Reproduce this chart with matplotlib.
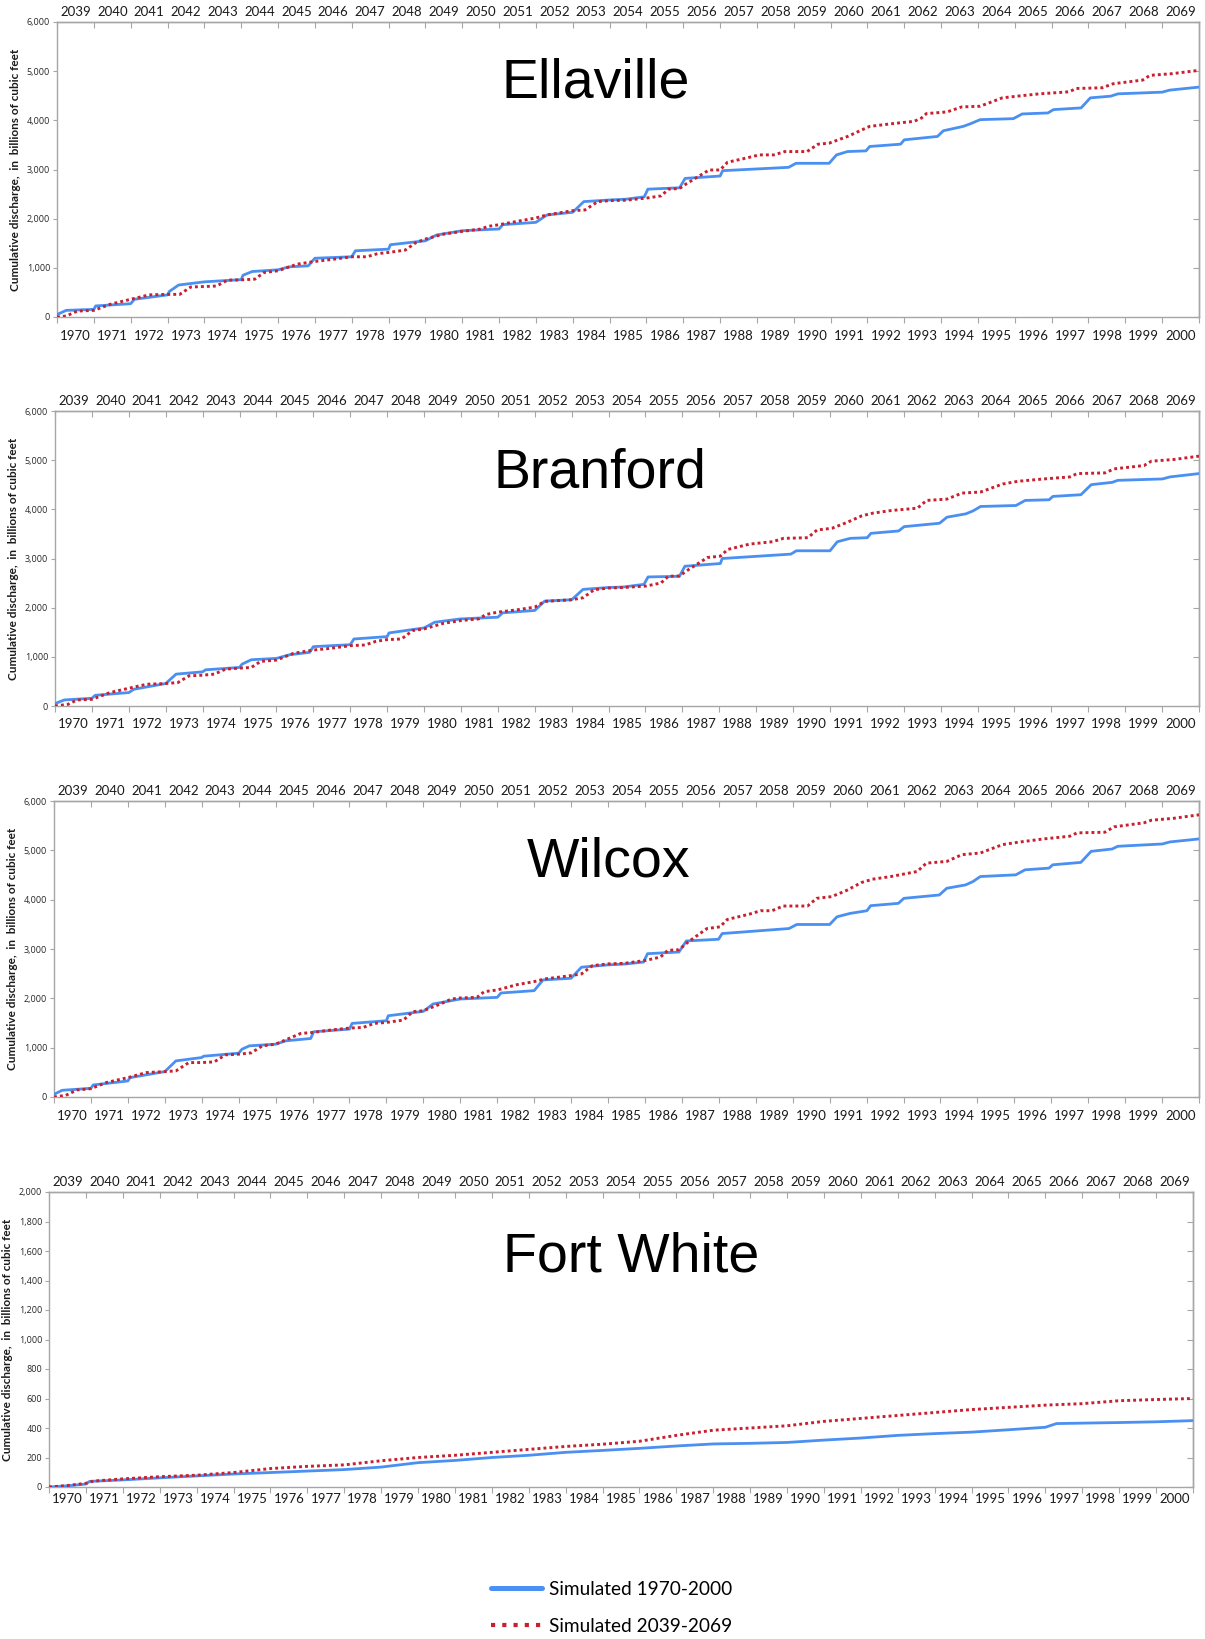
import matplotlib
matplotlib.use("Agg")
import matplotlib.pyplot as plt
from matplotlib.lines import Line2D
from matplotlib.ticker import FuncFormatter

plt.rcParams["font.family"] = ["Lato", "DejaVu Sans"]

# Cumulative discharge (billions of cubic feet) vs. years since start of record
# (0 = start of 1970 / 2039, 31 = end of 2000 / 2069)
ella_base = [(0, 50), (0.25, 135), (1.0, 155), (1.05, 225), (2.0, 270), (2.1, 360), (3.0, 450),
             (3.05, 520), (3.3, 650), (4.0, 715), (5.0, 760), (5.05, 850), (5.3, 925), (6.0, 960),
             (6.3, 1020), (6.82, 1040), (7.0, 1195), (8.0, 1225), (8.1, 1347), (9.0, 1380),
             (9.05, 1470), (10.0, 1550), (10.3, 1667), (11.0, 1755), (12.0, 1790), (12.1, 1878),
             (13.0, 1925), (13.3, 2075), (14.0, 2130), (14.3, 2347), (15.0, 2380), (15.44, 2396),
             (15.94, 2444), (16.04, 2600), (16.9, 2628), (17.05, 2819), (18.0, 2867), (18.07, 2976),
             (19.86, 3044), (20.06, 3126), (20.96, 3126), (21.16, 3297), (21.46, 3365), (21.96, 3379),
             (22.06, 3468), (22.9, 3515), (23.0, 3604), (23.9, 3672), (24.06, 3788), (24.6, 3877),
             (24.8, 3932), (25.06, 4014), (25.96, 4034), (26.2, 4130), (26.9, 4150), (27.05, 4218),
             (27.8, 4253), (28.05, 4457), (28.6, 4491), (28.8, 4539), (30.0, 4573), (30.2, 4614),
             (31.0, 4676)]
ella_future = [(0, 0), (0.25, 20), (0.55, 120), (1.0, 135), (1.45, 260), (2.0, 360), (2.5, 450),
               (3.0, 460), (3.33, 460), (3.63, 610), (4.0, 620), (4.33, 630), (4.63, 750), (5.0, 755),
               (5.37, 770), (5.62, 905), (6.0, 940), (6.52, 1075), (7.0, 1130), (7.51, 1175),
               (8.0, 1225), (8.41, 1225), (8.71, 1290), (9.0, 1313), (9.45, 1360), (9.75, 1517),
               (10.0, 1585), (10.5, 1687), (11.0, 1741), (11.5, 1789), (11.7, 1843), (12.0, 1877),
               (12.59, 1959), (13.0, 2014), (13.29, 2075), (14.0, 2163), (14.33, 2177), (14.68, 2347),
               (15.0, 2367), (15.44, 2375), (16.04, 2423), (16.4, 2464), (16.6, 2600), (16.9, 2614),
               (17.1, 2717), (17.7, 2990), (18.0, 2990), (18.2, 3147), (18.76, 3242), (19.06, 3297),
               (19.46, 3297), (19.76, 3365), (20.36, 3365), (20.66, 3515), (20.96, 3536),
               (21.46, 3672), (21.86, 3809), (22.06, 3877), (22.67, 3932), (23.27, 3980),
               (23.47, 4048), (23.6, 4137), (24.16, 4171), (24.56, 4273), (25.06, 4287),
               (25.66, 4457), (26.06, 4491), (26.67, 4539), (27.47, 4580), (27.67, 4648),
               (28.37, 4662), (28.67, 4744), (29.47, 4819), (29.67, 4915), (30.27, 4949), (31.0, 5017)]

bran_base = [(0, 48), (0.25, 123), (1.0, 157), (1.09, 218), (2.0, 273), (2.14, 341), (3.0, 457),
             (3.28, 648), (4.0, 695), (4.08, 736), (5.0, 784), (5.07, 852), (5.32, 941), (6.0, 968),
             (6.36, 1043), (6.9, 1091), (7.0, 1207), (8.0, 1247), (8.1, 1363), (9.0, 1411),
             (9.05, 1486), (10.0, 1588), (10.29, 1704), (11.0, 1772), (12.0, 1806), (12.13, 1895),
             (13.0, 1943), (13.27, 2134), (14.0, 2161), (14.31, 2372), (15.0, 2410), (15.4, 2420),
             (15.96, 2474), (16.07, 2625), (16.92, 2638), (17.07, 2843), (18.03, 2898), (18.08, 3000),
             (19.94, 3089), (20.09, 3157), (21.0, 3157), (21.2, 3341), (21.55, 3410), (22.01, 3423),
             (22.11, 3512), (22.86, 3560), (23.01, 3648), (23.97, 3717), (24.17, 3840),
             (24.68, 3908), (24.88, 3969), (25.08, 4058), (26.04, 4078), (26.29, 4181),
             (26.94, 4195), (27.04, 4263), (27.8, 4297), (28.08, 4502), (28.65, 4549), (28.8, 4590),
             (30.01, 4618), (30.21, 4659), (31.0, 4727)]
bran_future = [(0, 0), (0.35, 34), (0.6, 123), (1.0, 136), (1.49, 273), (2.0, 361), (2.49, 443),
               (3.0, 457), (3.33, 477), (3.63, 613), (4.0, 627), (4.32, 648), (4.62, 750), (5.0, 770),
               (5.32, 784), (5.57, 907), (6.0, 934), (6.46, 1070), (7.0, 1138), (7.46, 1172),
               (8.0, 1227), (8.4, 1241), (8.7, 1316), (9.0, 1350), (9.39, 1363), (9.69, 1534),
               (10.0, 1568), (10.54, 1684), (11.0, 1738), (11.48, 1772), (11.68, 1861), (12.0, 1909),
               (12.52, 1956), (13.0, 2011), (13.27, 2127), (14.0, 2161), (14.31, 2202), (14.61, 2365),
               (15.0, 2399), (15.4, 2410), (16.02, 2440), (16.42, 2502), (16.62, 2638), (16.92, 2645),
               (17.17, 2775), (17.68, 3020), (18.03, 3048), (18.23, 3184), (18.83, 3294),
               (19.44, 3341), (19.74, 3410), (20.4, 3423), (20.65, 3580), (21.05, 3614),
               (21.45, 3730), (21.86, 3867), (22.16, 3922), (22.66, 3976), (23.37, 4024),
               (23.62, 4181), (24.17, 4208), (24.58, 4331), (25.08, 4352), (25.68, 4515),
               (26.09, 4570), (26.79, 4618), (27.5, 4659), (27.7, 4727), (28.45, 4741), (28.7, 4823),
               (29.51, 4891), (29.71, 4980), (30.32, 5014), (31.0, 5082)]

wilc_base = [(0, 54), (0.22, 136), (1.0, 176), (1.06, 244), (2.0, 325), (2.06, 393), (3.0, 515),
             (3.3, 732), (4.0, 800), (4.05, 827), (5.0, 888), (5.09, 969), (5.29, 1037), (6.0, 1071),
             (6.28, 1139), (6.95, 1186), (7.03, 1322), (8.0, 1376), (8.07, 1492), (9.0, 1546),
             (9.05, 1647), (10.0, 1736), (10.26, 1885), (11.0, 1986), (12.0, 2020), (12.1, 2108),
             (13.0, 2156), (13.24, 2373), (14.0, 2407), (14.28, 2631), (15.0, 2678), (15.45, 2695),
             (15.96, 2735), (16.07, 2905), (16.92, 2939), (17.12, 3163), (17.99, 3197), (18.09, 3313),
             (19.9, 3415), (20.11, 3497), (21.0, 3497), (21.2, 3653), (21.55, 3721), (22.01, 3776),
             (22.11, 3878), (22.86, 3925), (23.01, 4027), (23.97, 4095), (24.17, 4231),
             (24.68, 4299), (24.88, 4367), (25.08, 4469), (26.04, 4503), (26.29, 4605),
             (26.94, 4639), (27.04, 4707), (27.8, 4755), (28.08, 4980), (28.65, 5027), (28.8, 5082),
             (30.01, 5129), (30.21, 5170), (31.0, 5231)]
wilc_future = [(0, 0), (0.32, 34), (0.62, 142), (1.0, 169), (1.41, 292), (2.0, 393), (2.5, 495),
               (3.0, 515), (3.3, 529), (3.65, 698), (4.0, 698), (4.34, 712), (4.64, 854), (5.0, 868),
               (5.34, 895), (5.64, 1037), (6.0, 1071), (6.68, 1288), (7.0, 1308), (7.48, 1356),
               (8.0, 1397), (8.37, 1410), (8.67, 1492), (9.0, 1512), (9.46, 1559), (9.71, 1729),
               (10.0, 1749), (10.46, 1885), (10.76, 1986), (11.0, 2007), (11.45, 2020), (11.65, 2136),
               (12.0, 2169), (12.54, 2278), (13.0, 2339), (13.29, 2393), (14.0, 2461), (14.28, 2495),
               (14.58, 2664), (15.0, 2698), (15.45, 2710), (16.02, 2769), (16.42, 2837),
               (16.62, 2973), (16.92, 2986), (17.17, 3143), (17.68, 3415), (18.03, 3449),
               (18.23, 3599), (18.83, 3707), (19.13, 3776), (19.44, 3776), (19.74, 3871),
               (20.4, 3871), (20.65, 4027), (21.05, 4061), (21.45, 4184), (21.86, 4347),
               (22.16, 4415), (22.66, 4469), (23.37, 4571), (23.62, 4741), (24.17, 4775),
               (24.58, 4912), (25.08, 4946), (25.68, 5116), (26.09, 5163), (26.79, 5231),
               (27.5, 5286), (27.7, 5354), (28.45, 5367), (28.7, 5476), (29.51, 5558), (29.71, 5610),
               (30.32, 5650), (31.0, 5720)]

fw_base = [(0, 0), (0.5, 8), (1.0, 20), (1.1, 38), (2.0, 48), (3.0, 62), (4.0, 75), (5.0, 88),
           (6.0, 98), (7.0, 108), (8.0, 118), (9.0, 135), (10.0, 165), (11.0, 180), (12.0, 200),
           (13.0, 215), (14.0, 235), (15.0, 248), (16.0, 262), (17.0, 278), (18.0, 292), (19.0, 296),
           (20.0, 302), (21.0, 318), (22.0, 332), (23.0, 350), (24.0, 362), (25.0, 372), (26.0, 388),
           (27.0, 405), (27.3, 430), (28.0, 433), (29.0, 437), (30.0, 442), (31.0, 450)]
fw_future = [(0, 0), (0.5, 10), (1.0, 25), (1.2, 40), (2.0, 55), (3.0, 70), (4.0, 80), (5.0, 98),
             (6.0, 125), (7.0, 140), (8.0, 150), (9.0, 178), (10.0, 200), (11.0, 215), (12.0, 235),
             (13.0, 255), (14.0, 275), (15.0, 290), (16.0, 310), (17.0, 350), (18.0, 385),
             (19.0, 400), (20.0, 415), (21.0, 445), (22.0, 465), (23.0, 485), (24.0, 505),
             (25.0, 525), (26.0, 540), (27.0, 555), (28.0, 565), (29.0, 585), (30.0, 593), (31.0, 600)]

years_base = list(range(1970, 2001))
years_future = list(range(2039, 2070))
stations = ["Ellaville", "Branford", "Wilcox", "Fort White"]

BLUE = "#4a8ff2"
RED = "#c8202f"
GRID = "#a6a6a6"
YLABEL = "Cumulative discharge,  in  billions of cubic feet"

W, H = 1205, 1639
fig = plt.figure(figsize=(W / 100, H / 100), dpi=100)


def add_axes_px(left, top, right, bottom):
    return fig.add_axes([left / W, 1 - bottom / H, (right - left) / W, (bottom - top) / H])


def year_axis(axis, labels):
    axis.set_ticks(range(32))
    axis.set_ticklabels([])
    axis.set_ticks([i + 0.5 for i in range(31)], minor=True)
    axis.set_ticklabels([str(y) for y in labels], minor=True)


def draw_panel(box, name, title_pos, base, future, ymax, ystep, xpad=9):
    ax = add_axes_px(*box)
    bt, bv = zip(*base)
    ft, fv = zip(*future)
    ax.plot(bt, bv, color=BLUE, lw=2.0, solid_joinstyle="round", zorder=3)
    ax.plot(ft, fv, color=RED, lw=2.1, linestyle=(0, (1, 1.05)), zorder=4)
    ax.set_xlim(0, 31)
    ax.set_ylim(0, ymax)

    yt = list(range(0, ymax + 1, ystep))
    ax.set_yticks(yt)
    ax.yaxis.set_major_formatter(FuncFormatter(lambda v, p: f"{int(round(v)):,}"))
    ax.tick_params(axis="y", direction="out", length=3, width=0.8, color=GRID,
                   labelsize=6.5, labelcolor="#262626", pad=2)
    for lab in ax.get_yticklabels():
        lab.set_family(["Open Sans", "DejaVu Sans"])

    year_axis(ax.xaxis, years_base)
    ax.tick_params(axis="x", which="major", direction="out", length=4, width=0.8, color=GRID)
    ax.tick_params(axis="x", which="minor", length=0, labelsize=9.5, labelcolor="#1a1a1a", pad=xpad)

    top = ax.secondary_xaxis("top")
    year_axis(top.xaxis, years_future)
    top.tick_params(axis="x", which="major", direction="in", length=4, width=0.8, color=GRID)
    top.tick_params(axis="x", which="minor", length=0, labelsize=9.5, labelcolor="#1a1a1a", pad=3)

    right = ax.secondary_yaxis("right")
    right.set_yticks(yt)
    right.set_yticklabels([])
    right.tick_params(axis="y", direction="in", length=4, width=0.8, color=GRID)

    for a in (ax, top, right):
        for s in a.spines.values():
            s.set_color(GRID)
            s.set_linewidth(1.0)

    fig.text(title_pos[0] / W, 1 - title_pos[1] / H, name, ha="center", va="baseline",
             fontsize=40, family=["Liberation Sans", "DejaVu Sans"])
    fig.text((box[0] - 41) / W, 1 - (box[1] + box[3]) / 2 / H, YLABEL, rotation=90,
             ha="center", va="center", fontsize=8.5, fontweight="bold", color="#1a1a1a")
    return ax


draw_panel((57, 22, 1199, 317), stations[0], (596, 97), ella_base, ella_future, 6000, 1000)
draw_panel((55, 411, 1199, 706), stations[1], (600, 488), bran_base, bran_future, 6000, 1000)
draw_panel((54, 801, 1199, 1097), stations[2], (609, 876), wilc_base, wilc_future, 6000, 1000)
draw_panel((49, 1192, 1193, 1487), stations[3], (631, 1271), fw_base, fw_future, 2000, 200, xpad=4.5)

handles = [Line2D([], [], color=BLUE, lw=3.6, solid_capstyle="round"),
           Line2D([], [], color=RED, lw=3.0, linestyle=(0, (1, 1.7)))]
fig.legend(handles, ["Simulated 1970-2000", "Simulated 2039-2069"], loc="center left",
           bbox_to_anchor=(491 / W, 1 - 1608 / H), frameon=False, fontsize=13.7,
           handlelength=2.7, handletextpad=0.35, labelspacing=1.05, borderpad=0, borderaxespad=0)

fig.savefig("out.png", dpi=100)
